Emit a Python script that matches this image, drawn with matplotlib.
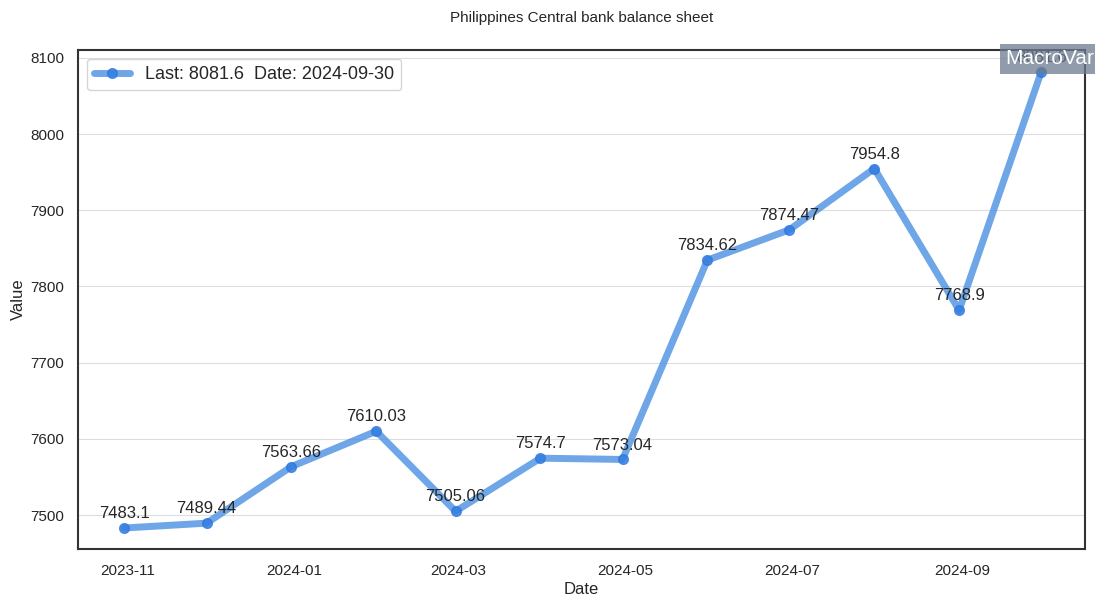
import matplotlib
matplotlib.use("Agg")
import matplotlib.pyplot as plt
import matplotlib.dates as mdates
import seaborn as sns
import pandas as pd

dates = ["2023-10-31", "2023-11-30", "2023-12-31", "2024-01-31", "2024-02-29", "2024-03-31",
         "2024-04-30", "2024-05-31", "2024-06-30", "2024-07-31", "2024-08-31", "2024-09-30"]
values = [7483.1, 7489.44, 7563.66, 7610.03, 7505.06, 7574.7,
          7573.04, 7834.62, 7874.47, 7954.8, 7768.9, 8081.6]
labels = ["7483.1", "7489.44", "7563.66", "7610.03", "7505.06", "7574.7",
          "7573.04", "7834.62", "7874.47", "7954.8", "7768.9", "8081.6"]

sns.set_theme(style="white")
plt.rcParams['font.family'] = ['Liberation Sans', 'DejaVu Sans']

x = pd.to_datetime(dates)
fig = plt.figure(figsize=(10.95, 6.08), dpi=100)
ax = fig.add_axes([0.0712, 0.097, 0.9197, 0.821])

ax.plot(x, values, color="#4a90e2", alpha=0.8, linewidth=5, marker="o", markersize=7,
        markerfacecolor="#2f7ae0", markeredgecolor="#2f7ae0",
        label=f"Last: {labels[-1]}  Date: {dates[-1]}")
for xi, v, t in zip(x, values, labels):
    ax.annotate(t, (xi, v), xytext=(0, 5), textcoords="offset points", ha="center",
                va="bottom", fontsize=12, color="#262626")

ax.set_ylim(7455.5, 8110.5)
ax.set_xlim(pd.Timestamp("2023-10-14"), pd.Timestamp("2024-10-16"))
ax.xaxis.set_major_locator(mdates.MonthLocator(bymonth=[1, 3, 5, 7, 9, 11]))
ax.xaxis.set_major_formatter(mdates.DateFormatter("%Y-%m"))
ax.yaxis.grid(True, color="#dddddd", linewidth=0.8)
ax.tick_params(axis="both", labelsize=11, length=0)
ax.tick_params(axis="x", pad=11)
ax.tick_params(axis="y", pad=10)
for s in ax.spines.values():
    s.set_color("#333333")
    s.set_linewidth(1.5)
ax.set_xlabel("Date", fontsize=12, labelpad=3)
ax.set_ylabel("Value", fontsize=12, labelpad=3)
ax.set_title("Philippines Central bank balance sheet", fontsize=11, pad=20)
ax.legend(loc="upper left", fontsize=13, frameon=True)
ax.text(0.965, 0.982, "MacroVar", transform=ax.transAxes, ha="center", va="center",
        fontsize=15, color="white",
        bbox=dict(boxstyle="square,pad=0.25", facecolor="#6b7a90", edgecolor="none", alpha=0.75))

fig.savefig("out.png", dpi=100)
